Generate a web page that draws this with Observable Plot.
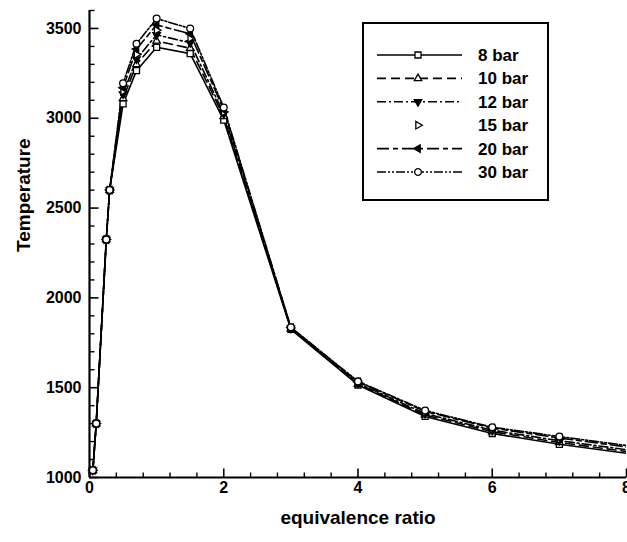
<!DOCTYPE html>
<html>
<head>
<meta charset="utf-8">
<script src="https://cdn.jsdelivr.net/npm/d3@7"></script>
<script src="https://cdn.jsdelivr.net/npm/@observablehq/plot@0.6"></script>
<style>
  html, body { margin: 0; padding: 0; background: #fff; }
  #wrap { position: relative; width: 627px; height: 542px; overflow: hidden; }
  #legend { position: absolute; left: 362px; top: 22px; }
</style>
</head>
<body>
<div id="wrap"></div>
<script>
// ---- data ----
const phi = [0.05, 0.1, 0.25, 0.3, 0.5, 0.7, 1.0, 1.5, 2.0, 3.0, 4.0, 5.0, 6.0, 7.0, 8.0];
const seriesNames = ["8 bar", "10 bar", "12 bar", "15 bar", "20 bar", "30 bar"];
const t8  = [1040, 1300, 2325, 2600, 3080, 3265, 3395, 3360, 2990, 1825, 1515, 1340, 1245, 1185, 1135];
const t10 = [1040, 1300, 2325, 2600, 3110, 3300, 3430, 3390, 3010, 1828, 1520, 1348, 1255, 1195, 1145];
const t12 = [1040, 1300, 2325, 2600, 3135, 3330, 3465, 3420, 3025, 1830, 1525, 1356, 1263, 1205, 1155];
const t15 = [1040, 1300, 2325, 2600, 3150, 3355, 3490, 3445, 3035, 1832, 1528, 1362, 1270, 1212, 1162];
const t20 = [1040, 1300, 2325, 2600, 3170, 3385, 3520, 3470, 3048, 1834, 1532, 1368, 1275, 1220, 1170];
const t30 = [1040, 1300, 2325, 2600, 3195, 3415, 3555, 3500, 3060, 1836, 1535, 1373, 1280, 1228, 1178];
const yTickLabels = [1000, 1500, 2000, 2500, 3000, 3500];
const xTickLabels = [0, 2, 4, 6, 8];
const xLabel = "equivalence ratio";
const yLabel = "Temperature";

const values = [t8, t10, t12, t15, t20, t30];
const yMinor = d3.range(1100, 3601, 100).filter(v => v % 500 !== 0);
const xMinor = d3.range(0.4, 8, 0.4).filter(v => Math.abs(v / 2 - Math.round(v / 2)) > 1e-6);

// ---- styles ----
const tri = deg => ({
  draw(ctx, size) {
    const r = Math.sqrt(size) * 0.72;
    for (let i = 0; i < 3; i++) {
      const a = (deg + i * 120) * Math.PI / 180;
      const px = r * Math.sin(a), py = -r * Math.cos(a);
      if (i) ctx.lineTo(px, py); else ctx.moveTo(px, py);
    }
    ctx.closePath();
  }
});
const styles = [
  {dash: "",              line: true,  symbol: d3.symbolSquare, fill: "white"},
  {dash: "9,5",           line: true,  symbol: tri(0),          fill: "white"},
  {dash: "9,3,2,3",       line: true,  symbol: tri(180),        fill: "black"},
  {dash: "",              line: false, symbol: tri(90),         fill: "white"},
  {dash: "12,4,5,4",      line: true,  symbol: tri(270),        fill: "black"},
  {dash: "9,2,2,2,2,2",   line: true,  symbol: d3.symbolCircle, fill: "white"}
];
const hTick = len => ({draw(ctx) { ctx.moveTo(0, 0); ctx.lineTo(len, 0); }});
const vTick = len => ({draw(ctx) { ctx.moveTo(0, 0); ctx.lineTo(0, -len); }});
const FONT = "'Liberation Sans', Arial, Helvetica, sans-serif";

const marks = [];
// axis lines
marks.push(Plot.ruleX([0], {stroke: "black", strokeWidth: 2.2}));
marks.push(Plot.ruleY([1000], {stroke: "black", strokeWidth: 2.2}));
// inward ticks
marks.push(Plot.dot(yTickLabels, {x: () => 0, y: d => d, symbol: hTick(9), r: 3, stroke: "black", fill: "none", strokeWidth: 1.6}));
marks.push(Plot.dot(yMinor, {x: () => 0, y: d => d, symbol: hTick(5), r: 3, stroke: "black", fill: "none", strokeWidth: 1.4}));
marks.push(Plot.dot(xTickLabels, {x: d => d, y: () => 1000, symbol: vTick(9), r: 3, stroke: "black", fill: "none", strokeWidth: 1.6}));
marks.push(Plot.dot(xMinor, {x: d => d, y: () => 1000, symbol: vTick(5), r: 3, stroke: "black", fill: "none", strokeWidth: 1.4}));
// tick labels
marks.push(Plot.text(yTickLabels, {x: () => 0, y: d => d, text: d => String(d), textAnchor: "end", dx: -8, fontSize: 16, fontWeight: "bold", fill: "black"}));
marks.push(Plot.text(xTickLabels, {x: d => d, y: () => 1000, text: d => String(d), lineAnchor: "top", dy: 4, fontSize: 16, fontWeight: "bold", fill: "black"}));
// axis titles
marks.push(Plot.text([xLabel], {frameAnchor: "bottom", text: d => d, dy: 46, fontSize: 19, fontWeight: "bold", fill: "black"}));
marks.push(Plot.text([yLabel], {frameAnchor: "left", text: d => d, dx: -66, dy: 8, rotate: -90, fontSize: 19, fontWeight: "bold", fill: "black"}));

// series lines
values.forEach((vals, k) => {
  const st = styles[k];
  if (!st.line) return;
  const data = phi.map((p, i) => ({phi: p, T: vals[i]}));
  marks.push(Plot.line(data, {x: "phi", y: "T", stroke: "black", strokeWidth: 1.6,
    strokeDasharray: st.dash || null, clip: true}));
});
// series markers
values.forEach((vals, k) => {
  const st = styles[k];
  const data = phi.map((p, i) => ({phi: p, T: vals[i]})).filter(d => d.phi < 8);
  marks.push(Plot.dot(data, {x: "phi", y: "T", symbol: st.symbol, r: 3.4, stroke: "black", fill: st.fill, strokeWidth: 1.3}));
});

const chart = Plot.plot({
  width: 627, height: 542,
  marginLeft: 89, marginRight: 1, marginTop: 10, marginBottom: 65,
  x: {domain: [0, 8], axis: null},
  y: {domain: [1000, 3600], axis: null},
  style: {fontFamily: FONT, background: "white", color: "black"},
  marks
});
const wrap = document.getElementById("wrap");
wrap.appendChild(chart);

// ---- legend ----
const lw = 188, lh = 180;
const leg = d3.select(wrap).append("svg").attr("id", "legend").attr("width", lw).attr("height", lh)
  .style("font-family", FONT);
leg.append("rect").attr("x", 1).attr("y", 1).attr("width", lw - 3).attr("height", lh - 3)
  .attr("fill", "white").attr("stroke", "black").attr("stroke-width", 2);
seriesNames.forEach((name, k) => {
  const st = styles[k];
  const y = 33 + k * 23.4;
  const g = leg.append("g").attr("transform", `translate(0,${y})`);
  if (st.line) {
    g.append("line").attr("x1", 15).attr("x2", 100).attr("y1", 0).attr("y2", 0)
      .attr("stroke", "black").attr("stroke-width", 1.6)
      .attr("stroke-dasharray", st.dash || null);
  }
  g.append("path").attr("transform", "translate(56,0)")
    .attr("d", d3.symbol(st.symbol, 3.4 * 3.4 * Math.PI)())
    .attr("fill", st.fill).attr("stroke", "black").attr("stroke-width", 1.3);
  g.append("text").attr("x", 116).attr("y", 0).attr("dy", "0.35em")
    .attr("font-size", 17).attr("font-weight", "bold").text(name);
});
</script>
</body>
</html>
